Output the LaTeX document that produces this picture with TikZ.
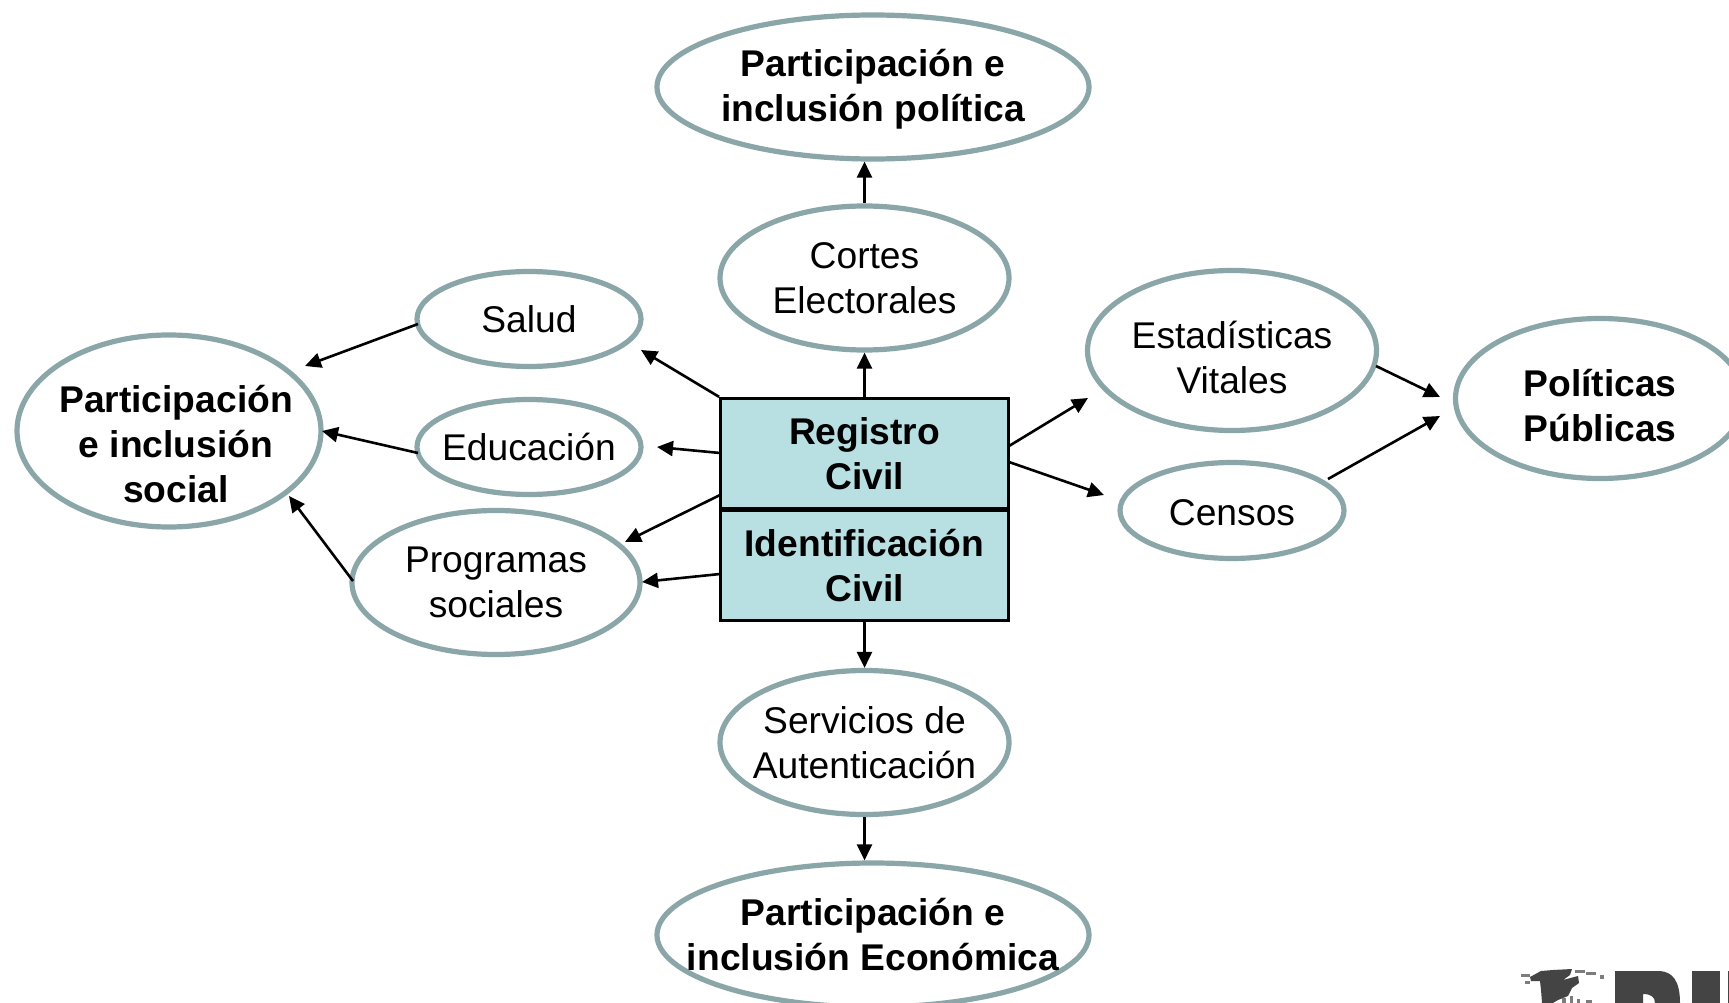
\documentclass[tikz,border=0pt]{standalone}
\usepackage{fontspec}
\setmainfont{Liberation Sans}
\usetikzlibrary{shapes.geometric,arrows.meta}
\definecolor{ovalc}{HTML}{8AA6A8}
\definecolor{boxc}{HTML}{B8DFE2}
\definecolor{logoc}{HTML}{444444}
\newcommand{\topgap}[1]{\rule{0pt}{#1}}
\tikzset{
  oval/.style={ellipse,draw=ovalc,line width=5.2pt,fill=white,inner sep=-60pt,align=center,font=\fontsize{37.2}{45}\selectfont},
  goal/.style={oval,font=\fontsize{37.2}{45}\selectfont\bfseries},
  regbox/.style={rectangle,draw=black,line width=2.8pt,fill=boxc,minimum width=288pt,minimum height=110.5pt,inner sep=0pt,align=center,font=\fontsize{37.2}{45}\selectfont\bfseries},
  arr/.style={-{Triangle[length=16pt,width=15pt]},line width=2.6pt,black},
  logo/.style={fill=logoc,draw=none},
  logolight/.style={fill=logoc!70,draw=none}
}
\begin{document}
\begin{tikzpicture}[x=1pt,y=-1pt]
\useasboundingbox (0,0) rectangle (1729,1003);
\clip (0,0) rectangle (1729,1003);
\fill[white] (0,0) rectangle (1729,1003);
% nodes
\node[goal,minimum width=432pt,minimum height=144pt] (top) at (873,87) {\topgap{31.5pt}Participación e\\inclusión política};
\node[oval,minimum width=289pt,minimum height=144pt] (cortes) at (864.5,278) {Cortes\\Electorales};
\node[oval,minimum width=224pt,minimum height=95pt] (salud) at (529,319) {Salud};
\node[oval,minimum width=224pt,minimum height=95pt] (educ) at (529,447) {Educación};
\node[oval,minimum width=288pt,minimum height=144pt] (prog) at (496,582.5) {Programas\\sociales};
\node[goal,minimum width=304pt,minimum height=192pt] (social) at (169,431) {\topgap{53pt}\hspace*{14pt}Participación\\\hspace*{14pt}e inclusión\\\hspace*{14pt}social};
\node[oval,minimum width=289pt,minimum height=160pt] (estad) at (1232,350.5) {\topgap{41pt}Estadísticas\\Vitales};
\node[oval,minimum width=224pt,minimum height=96pt] (censos) at (1232,510.5) {\topgap{30pt}Censos};
\node[goal,minimum width=289pt,minimum height=160pt] (polit) at (1600,398.5) {\topgap{42pt}Políticas\\Públicas};
\node[oval,minimum width=289pt,minimum height=144pt] (serv) at (864.5,742.5) {Servicios de\\Autenticación};
\node[goal,minimum width=432pt,minimum height=144pt] (econ) at (873,935) {Participación e\\inclusión Económica};
\node[regbox] (reg) at (864.5,453.5) {Registro\\Civil};
\node[regbox] (iden) at (864.5,565.5) {Identificación\\Civil};
% free ends
\coordinate (e1) at (641,350);
\coordinate (s3) at (720,453);
\coordinate (e3) at (657,447);
\coordinate (s4) at (720,495);
\coordinate (e4) at (625,542);
\coordinate (s5) at (720,574);
\coordinate (e5) at (642,582);
\coordinate (s7) at (1009,446);
\coordinate (e7) at (1088,398);
\coordinate (s8) at (1009,462);
\coordinate (e8) at (1104,495);
\coordinate (s11) at (418,324);
\coordinate (e11) at (305,366);
\coordinate (s12) at (418,453);
\coordinate (e12) at (322,431);
\coordinate (s13) at (353,581);
\coordinate (e13) at (289,496);
\coordinate (s14) at (1376,366);
\coordinate (e14) at (1440,397);
\coordinate (s15) at (1328,479);
\coordinate (e15) at (1440,416);
% connectors
\draw[arr] (reg.north west) -- (e1);
\draw[arr] (reg.north) -- (cortes.south);
\draw[arr] (s3) -- (e3);
\draw[arr] (s4) -- (e4);
\draw[arr] (s5) -- (e5);
\draw[arr] (iden.south) -- (serv.north);
\draw[arr] (s7) -- (e7);
\draw[arr] (s8) -- (e8);
\draw[arr] (cortes.north) -- (cortes.north |- top.south);
\draw[arr] (serv.south) -- (serv.south |- econ.north);
\draw[arr] (s11) -- (e11);
\draw[arr] (s12) -- (e12);
\draw[arr] (s13) -- (e13);
\draw[arr] (s14) -- (e14);
\draw[arr] (s15) -- (e15);
% logo fragment
\fill[logo] (1530,977) -- (1541,971) -- (1553,970) -- (1572,969) -- (1570,975) -- (1563,980) -- (1578,976) -- (1579,983) -- (1572,988) -- (1568,996) -- (1558,1000) -- (1553,1003) -- (1542,1003) -- (1541,990) -- (1540,981) -- (1531,981) -- cycle;
\fill[logolight] (1521,974) rectangle (1530,977);
\fill[logolight] (1575,970) rectangle (1585,973);
\fill[logolight] (1586,972) rectangle (1596,975);
\fill[logolight] (1600,975) rectangle (1604,979);
\fill[logolight] (1525,981) rectangle (1530,984);
\fill[logolight] (1562,998) rectangle (1566,1003);
\fill[logolight] (1570,996) rectangle (1573,1003);
\fill[logolight] (1577,999) rectangle (1580,1003);
\fill[logolight] (1586,1000) rectangle (1592,1003);
\fill[logo] (1615,971) -- (1660,971) .. controls (1672,972) and (1680,980) .. (1680,1003) -- (1655,1003) .. controls (1655,997) and (1651,994) .. (1643,994) -- (1643,1003) -- (1615,1003) -- cycle;
\fill[logo] (1692,971) rectangle (1720,1003);
\fill[logo] (1728,971) rectangle (1729,1003);
\end{tikzpicture}
\end{document}
